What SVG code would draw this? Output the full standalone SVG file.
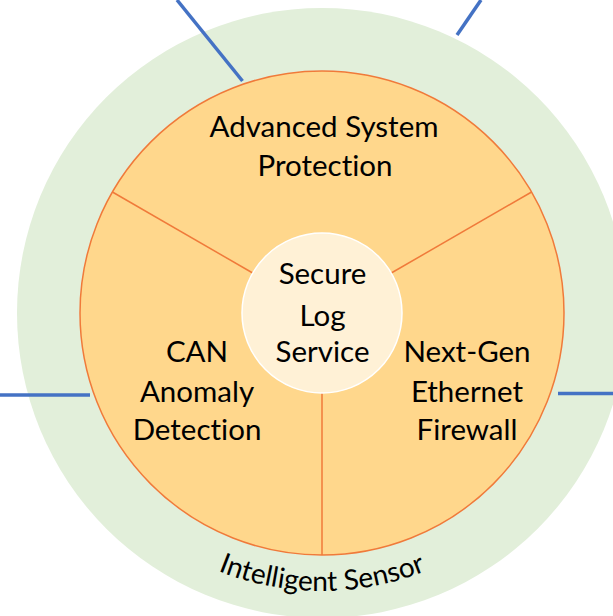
<svg xmlns="http://www.w3.org/2000/svg" width="613" height="616" viewBox="0 0 613 616">
<style>
.lbl{font-family:Lato,"Open Sans","Liberation Sans",sans-serif;font-size:29.5px;fill:#000;text-anchor:middle;font-variant-ligatures:none}
.arc{font-family:Lato,"Open Sans","Liberation Sans",sans-serif;font-size:28px;fill:#000;text-anchor:middle;font-variant-ligatures:none}
.div{stroke:#F07A3A;stroke-width:1.5;fill:none}
.link{stroke:#4472C4;stroke-width:3.5;fill:none}
</style>
<defs>
<path id="arc" d="M 44 313 A 278 278 0 0 0 600 313"/>
</defs>
<rect width="613" height="616" fill="#FFFFFF"/>
<g id="intelligent-sensor">
<circle cx="322" cy="313" r="305" fill="#E2EFDA"/>
<text class="arc"><textPath href="#arc" startOffset="50%">Intelligent Sensor</textPath></text>
</g>
<g id="ring">
<circle cx="322" cy="313" r="242" fill="#FFD78C" stroke="#F07A3A" stroke-width="1.5"/>
</g>
<g id="dividers">
<line class="div" x1="252.7" y1="273" x2="112.4" y2="192"/>
<line class="div" x1="391.3" y1="273" x2="531.6" y2="192"/>
<line class="div" x1="322" y1="393" x2="322" y2="555"/>
</g>
<g id="advanced-system-protection">
<text class="lbl" x="324" y="137">Advanced System</text>
<text class="lbl" x="325" y="176">Protection</text>
</g>
<g id="can-anomaly-detection">
<text class="lbl" x="197" y="362">CAN</text>
<text class="lbl" x="197" y="402">Anomaly</text>
<text class="lbl" x="197" y="440">Detection</text>
</g>
<g id="next-gen-ethernet-firewall">
<text class="lbl" x="467" y="362">Next-Gen</text>
<text class="lbl" x="467" y="402">Ethernet</text>
<text class="lbl" x="467" y="440">Firewall</text>
</g>
<g id="secure-log-service">
<circle cx="322" cy="313" r="80" fill="#FFF1D6" stroke="#FFFFFF" stroke-width="1.5"/>
<text class="lbl" x="322.5" y="284">Secure</text>
<text class="lbl" x="322.5" y="326">Log</text>
<text class="lbl" x="322.5" y="362">Service</text>
</g>
<g id="connectors">
<line class="link" x1="177" y1="0" x2="242.5" y2="81"/>
<line class="link" x1="481" y1="0" x2="457" y2="35"/>
<line class="link" x1="0" y1="395" x2="90" y2="395"/>
<line class="link" x1="558" y1="393.5" x2="613" y2="393.5"/>
</g>
</svg>
